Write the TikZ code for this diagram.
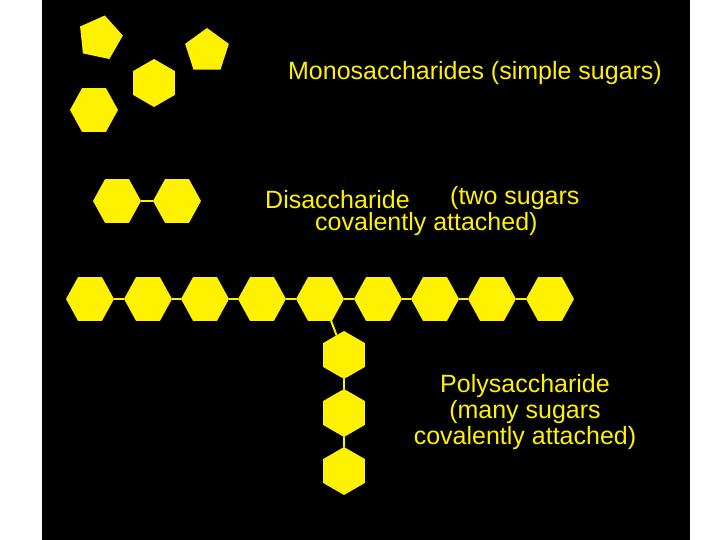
\documentclass[tikz,border=0pt]{standalone}
\usepackage{fontspec}
\setmainfont{Liberation Sans}
\usetikzlibrary{shapes.geometric}
\begin{document}
\begin{tikzpicture}[x=1pt,y=-1pt,
  sug/.style={fill=yellow,draw=none,inner sep=0pt,outer sep=0pt},
  hexf/.style={sug,regular polygon,regular polygon sides=6,minimum size=48pt,yscale=1.05},
  hexp/.style={sug,regular polygon,regular polygon sides=6,minimum size=48pt,shape border rotate=30},
  pent/.style={sug,regular polygon,regular polygon sides=5,minimum size=46pt},
  bond/.style={yellow,line width=2pt},
  lbl/.style={text=yellow,font=\fontsize{25}{26}\selectfont,inner sep=0pt,align=center}]
\useasboundingbox (0,0) rectangle (720,540);
\fill[white] (0,0) rectangle (720,540);
\fill[black] (42,0) rectangle (690,540);
% monosaccharides
\node[pent,rotate=-12] (m1) at (100,38) {};
\node[pent] (m2) at (207,51) {};
\node[hexp] (m3) at (154,83) {};
\node[hexf] (m4) at (94,110) {};
\node[lbl] (tm) at (475,73) {Monosaccharides (simple sugars)};
% disaccharide
\node[hexf] (d1) at (117,201) {};
\node[hexf] (d2) at (177,201) {};
\draw[bond] (d1) -- (d2);
\node[lbl,anchor=west] (td) at (265,200) {Disaccharide};
\node[lbl,anchor=west] (td2) at (450,198) {(two sugars};
\node[lbl,anchor=west] (td3) at (315,224) {covalently attached)};
% polysaccharide chain
\foreach \i/\x in {1/90,2/148,3/205,4/262,5/320,6/378,7/435,8/492,9/550}
  \node[hexf] (c\i) at (\x,299) {};
\foreach \i [evaluate=\i as \j using int(\i+1)] in {1,...,8}
  \draw[bond] (c\i) -- (c\j);
\node[hexp] (v1) at (344,355) {};
\node[hexp] (v2) at (344,413) {};
\node[hexp] (v3) at (344,471) {};
\coordinate (b0) at (330,318);
\draw[bond] (b0) -- (v1);
\draw[bond] (v1) -- (v2);
\draw[bond] (v2) -- (v3);
\node[lbl] (tp) at (525,412) {Polysaccharide\\(many sugars\\covalently attached)};
\end{tikzpicture}
\end{document}
